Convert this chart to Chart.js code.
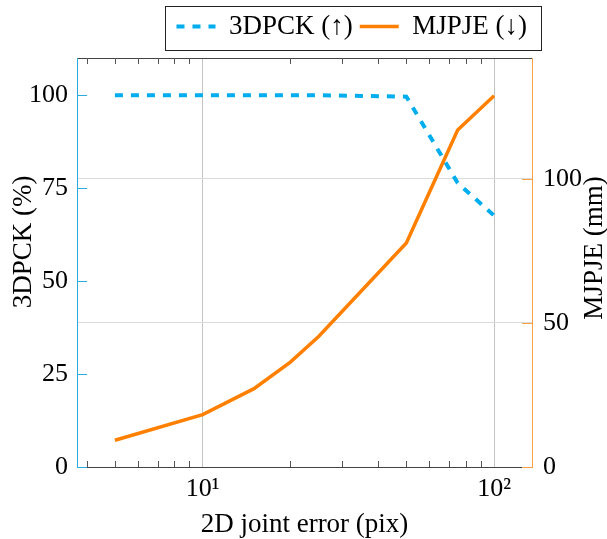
<!DOCTYPE html>
<html>
<head>
<meta charset="utf-8">
<script src="https://cdn.jsdelivr.net/npm/chart.js@4.4.1/dist/chart.umd.min.js"></script>
<style>
  html, body { margin: 0; padding: 0; background: #fff; }
</style>
</head>
<body>
<canvas id="chart" width="607" height="539"></canvas>
<script>
// 2D joint error (pix)
const errors = [5, 10, 15, 20, 25, 50, 75, 100];
// 3DPCK (%) - left axis
const pck = [100, 100, 100, 100, 100, 99.6, 76.4, 67.6];
// MJPJE (mm) - right axis
const mjpje = [9.3, 18.2, 27.2, 36.4, 45.3, 77.8, 117.0, 128.9];

const xMajor = [10, 100];
const xMinor = [4, 5, 6, 7, 8, 9, 20, 30, 40, 50, 60, 70, 80, 90];
const pckTicks = [0, 25, 50, 75, 100];
const mjpjeTicks = [0, 50, 100];

const serif = "'Liberation Serif', 'DejaVu Serif', serif";
const blue = '#00aeef', orange = '#ff8000';
const blueAxis = '#29aae1', orangeAxis = '#f7a145';

// x range like pgfplots: 10% extra on each side (in log space)
const lo = Math.log10(errors[0]), hi = Math.log10(errors[errors.length - 1]);
const xMin = Math.pow(10, lo - 0.1 * (hi - lo));
const xMax = Math.pow(10, hi + 0.1 * (hi - lo));

Chart.defaults.font.family = serif;
Chart.defaults.font.size = 26;
Chart.defaults.color = '#000';

// legend right-aligned on the plot frame, with a border round it
const legendBox = {
  id: 'legendBox',
  afterLayout(chart) {
    chart.legend.right = chart.chartArea.right + 2;
  },
  afterDraw(chart) {
    const hb = chart.legend.legendHitBoxes;
    if (!hb || !hb.length) return;
    const first = hb[0], last = hb[hb.length - 1];
    const cy = first.top + first.height / 2;
    const ctx = chart.ctx;
    ctx.save();
    ctx.strokeStyle = '#222';
    ctx.lineWidth = 1;
    const x1 = Math.round(first.left - 11) + 0.5;
    const x2 = Math.round(last.left + last.width + 14) + 0.5;
    ctx.strokeRect(x1, Math.round(cy - 21) + 0.5, x2 - x1, 44);
    ctx.restore();
  }
};

// inward tick marks + rotated y titles
const frame = {
  id: 'frame',
  afterDraw(chart) {
    const {ctx, chartArea: a, scales} = chart;
    ctx.save();
    ctx.lineWidth = 1;
    ctx.strokeStyle = '#555';
    ctx.beginPath();
    xMinor.forEach(v => {
      const px = Math.round(scales.x.getPixelForValue(v)) + 0.5;
      ctx.moveTo(px, a.bottom); ctx.lineTo(px, a.bottom - 6);
      ctx.moveTo(px, a.top); ctx.lineTo(px, a.top + 6);
    });
    ctx.stroke();

    ctx.strokeStyle = blueAxis;
    ctx.beginPath();
    pckTicks.forEach(v => {
      const py = Math.round(scales.y.getPixelForValue(v)) + 0.5;
      ctx.moveTo(a.left, py); ctx.lineTo(a.left + 10, py);
    });
    ctx.stroke();

    ctx.strokeStyle = orangeAxis;
    ctx.beginPath();
    mjpjeTicks.forEach(v => {
      const py = Math.round(scales.y2.getPixelForValue(v)) + 0.5;
      ctx.moveTo(a.right, py); ctx.lineTo(a.right - 10, py);
    });
    ctx.stroke();

    ctx.fillStyle = '#000';
    ctx.font = '27px ' + serif;
    ctx.textAlign = 'center';
    ctx.textBaseline = 'middle';
    [['3DPCK (%)', 24, 242], ['MJPJE (mm)', 595, 248]].forEach(([t, x, y]) => {
      ctx.save();
      ctx.translate(x, y);
      ctx.rotate(-Math.PI / 2);
      ctx.fillText(t, 0, 0);
      ctx.restore();
    });
    ctx.restore();
  }
};

new Chart(document.getElementById('chart'), {
  type: 'line',
  data: {
    datasets: [{
      label: '3DPCK (↑)',
      data: errors.map((e, i) => ({x: e, y: pck[i]})),
      yAxisID: 'y',
      borderColor: blue,
      backgroundColor: blue,
      borderWidth: 4,
      borderDash: [8, 8],
      pointRadius: 0,
      order: 1
    }, {
      label: 'MJPJE (↓)',
      data: errors.map((e, i) => ({x: e, y: mjpje[i]})),
      yAxisID: 'y2',
      borderColor: orange,
      backgroundColor: orange,
      borderWidth: 3.5,
      pointRadius: 0,
      order: 0
    }]
  },
  options: {
    responsive: false,
    animation: false,
    layout: { padding: { top: 6, left: 0, right: 0, bottom: 0 } },
    scales: {
      x: {
        type: 'logarithmic',
        position: 'bottom',
        min: xMin, max: xMax,
        afterBuildTicks: s => { s.ticks = xMajor.map(v => ({value: v})); },
        ticks: {
          autoSkip: false, maxRotation: 0, padding: 7,
          callback: v => '10' + ['⁰', '¹', '²', '³'][Math.round(Math.log10(v))]
        },
        grid: { color: '#c4c4c4', drawTicks: false },
        border: { color: '#444' },
        title: {
          display: true, text: '2D joint error (pix)',
          font: { size: 27, lineHeight: 1 }, padding: { top: 0, bottom: 1 }
        },
        afterFit: s => { s.height = 72; }
      },
      xTop: {
        type: 'logarithmic',
        position: 'top',
        min: xMin, max: xMax,
        ticks: { display: false },
        grid: { color: 'rgba(0,0,0,0)', drawOnChartArea: false, drawTicks: false },
        border: { color: '#444' },
        afterFit: s => { s.height = 8; }
      },
      y: {
        position: 'left',
        min: 0, max: 110,
        afterBuildTicks: s => { s.ticks = pckTicks.map(v => ({value: v})); },
        ticks: { padding: 9 },
        grid: { drawOnChartArea: false, drawTicks: false },
        border: { color: blueAxis },
        afterFit: s => { s.width = 77; }
      },
      y2: {
        position: 'right',
        min: 0, max: 142,
        afterBuildTicks: s => { s.ticks = mjpjeTicks.map(v => ({value: v})); },
        ticks: { padding: 11 },
        grid: { color: '#dadada', drawTicks: false },
        border: { color: orangeAxis },
        afterFit: s => { s.width = 75; }
      }
    },
    plugins: {
      tooltip: { enabled: false },
      legend: {
        position: 'top',
        align: 'end',
        labels: {
          usePointStyle: true,
          pointStyle: 'line',
          pointStyleWidth: 39,
          padding: 7,
          font: { size: 27 },
          sort: (a, b) => a.datasetIndex - b.datasetIndex,
          // point-style items lose the dataset's dash, so copy line style back
          generateLabels: chart => Chart.defaults.plugins.legend.labels.generateLabels(chart).map(item => {
            const ds = chart.data.datasets[item.datasetIndex];
            item.lineDash = ds.borderDash || [];
            item.lineWidth = ds.borderWidth;
            item.strokeStyle = ds.borderColor;
            return item;
          })
        }
      }
    }
  },
  plugins: [legendBox, frame]
});
</script>
</body>
</html>
